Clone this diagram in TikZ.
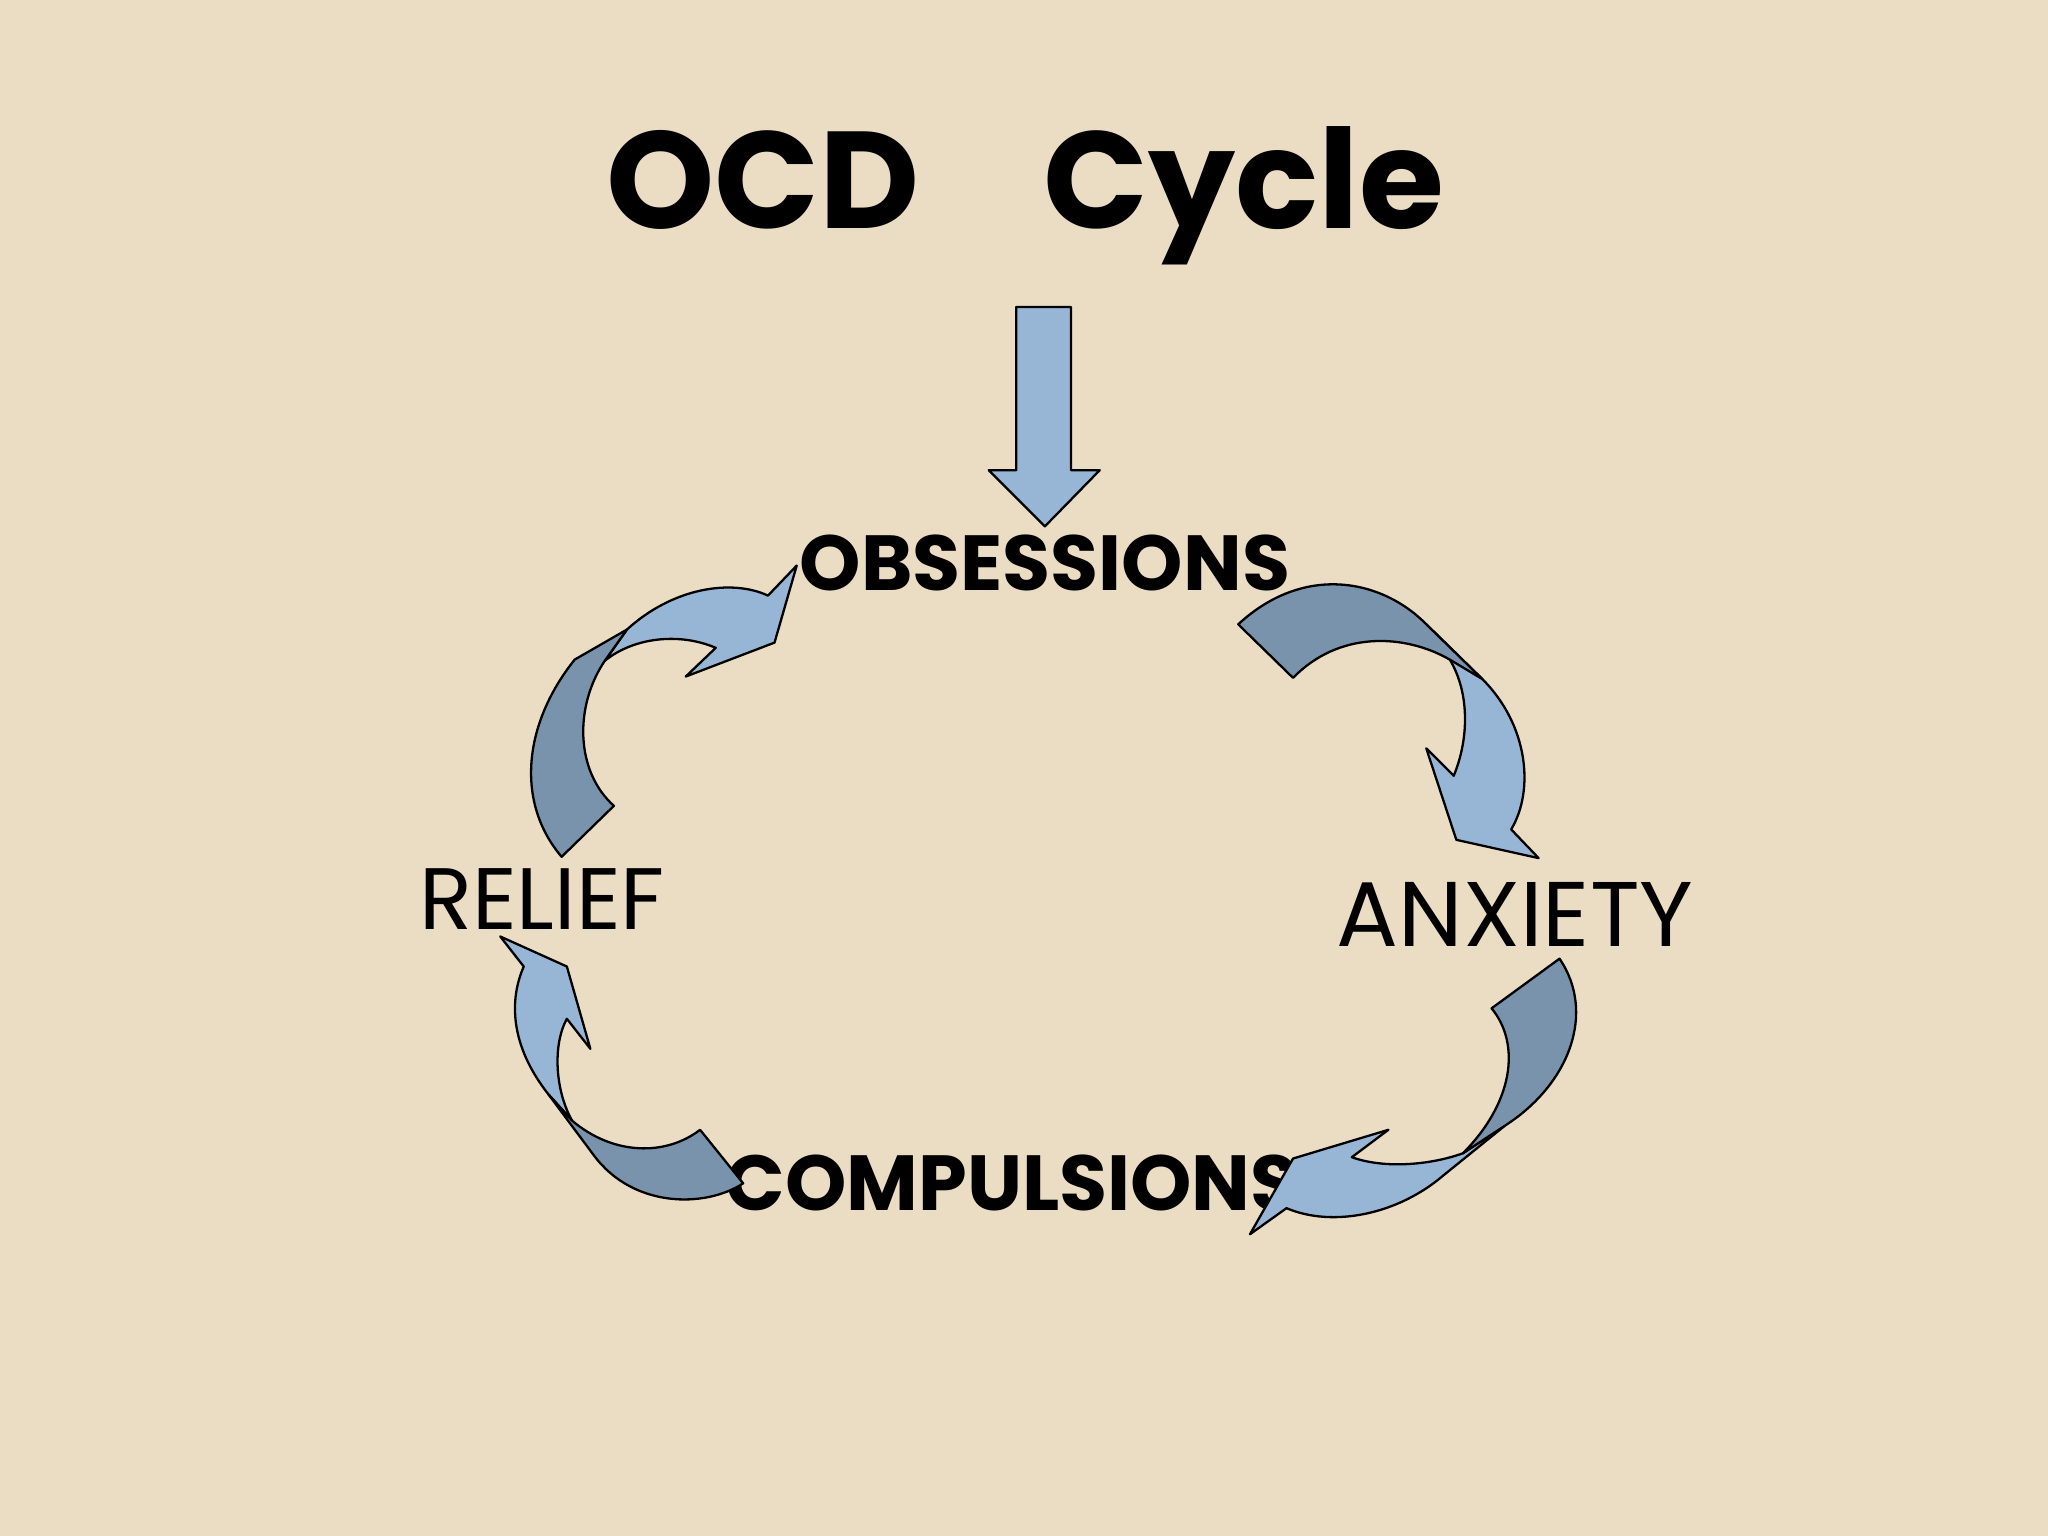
\documentclass[tikz,border=0pt]{standalone}
\usepackage{fontspec}
\setmainfont{Poppins}
\begin{document}
\begin{tikzpicture}[x=0.01cm,y=-0.01cm,
  lt/.style={fill=arrowlight,draw=black,line width=0.5pt,line join=round},
  dk/.style={fill=arrowdark,draw=black,line width=0.5pt,line join=round},
  lbl/.style={inner sep=0pt,anchor=center}]
\definecolor{bg}{HTML}{EBDDC3}
\definecolor{arrowlight}{HTML}{97B6D5}
\definecolor{arrowdark}{HTML}{7993AC}
\fill[bg] (0,0) rectangle (1568,1176);
\useasboundingbox (0,0) rectangle (1568,1176);
\node[lbl,font=\fontsize{30}{36}\selectfont\bfseries] (title) at (785,150) {OCD\hspace{0.9em}Cycle};
\node[lbl,font=\fontsize{17}{20}\selectfont\bfseries] (obs) at (800,431) {OBSESSIONS};
\node[lbl,font=\fontsize{17}{20}\selectfont\bfseries] (comp) at (775,906) {COMPULSIONS};
\node[lbl,font=\fontsize{19}{22}\selectfont] (rel) at (415,688) {RELIEF};
\node[lbl,font=\fontsize{20}{24}\selectfont] (anx) at (1160,700) {ANXIETY};
% down arrow
\draw[lt] (778,235) -- (820,235) -- (820,360) -- (842,360) -- (800,403) -- (757,360) -- (778,360) -- cycle;
% top right
\draw[lt] (1092,478) -- (1135,520) .. controls (1170,555) and (1175,605) .. (1157,635) -- (1178,657) -- (1115,643) -- (1092,573) -- (1113,594) .. controls (1125,565) and (1125,530) .. (1110,505) -- cycle;
\draw[dk] (948,478) .. controls (1000,430) and (1060,445) .. (1092,478) -- (1135,520) -- (1110,505) .. controls (1075,485) and (1025,483) .. (990,519) -- cycle;
% top left
\draw[lt] (480,482) .. controls (515,450) and (560,443) .. (588,456) -- (610,433) -- (593,492) -- (525,518) -- (548,496) .. controls (520,484) and (485,488) .. (463,506) -- cycle;
\draw[dk] (430,656) .. controls (395,615) and (400,555) .. (440,505) -- (480,482) -- (463,506) .. controls (440,540) and (440,590) .. (470,617) -- cycle;
% bottom right
\draw[lt] (1152,862) -- (1105,900) .. controls (1070,930) and (1020,940) .. (985,925) -- (957,945) -- (990,887) -- (1063,865) -- (1035,886) .. controls (1060,895) and (1095,892) .. (1120,883) -- cycle;
\draw[dk] (1142,772) -- (1194,734) .. controls (1222,775) and (1202,830) .. (1152,862) -- (1120,883) .. controls (1158,845) and (1165,800) .. (1142,772) -- cycle;
% bottom left
\draw[lt] (420,838) .. controls (390,800) and (390,765) .. (401,740) -- (383,717) -- (434,740) -- (452,803) -- (434,780) .. controls (423,800) and (425,835) .. (438,858) -- cycle;
\draw[dk] (569,906) -- (536,865) .. controls (510,885) and (470,885) .. (438,858) -- (420,838) -- (455,885) .. controls (485,925) and (540,925) .. (569,906) -- cycle;
\end{tikzpicture}
\end{document}
